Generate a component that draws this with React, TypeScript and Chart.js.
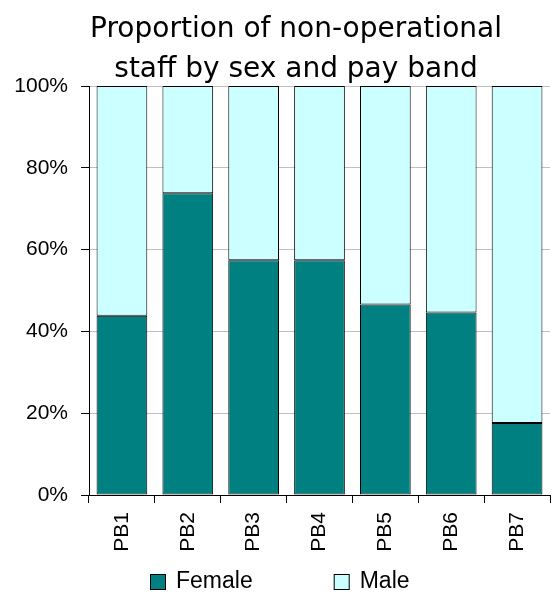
import React, { useEffect, useRef } from "react";
import { Chart, registerables } from "chart.js";

Chart.register(...registerables);

const categories = ["PB1", "PB2", "PB3", "PB4", "PB5", "PB6", "PB7"];
const femaleValues = [43.8, 73.8, 57.4, 57.4, 46.6, 44.6, 17.6];
const maleValues = [56.2, 26.2, 42.6, 42.6, 53.4, 55.4, 82.4];
const seriesNames = ["Female", "Male"];
const seriesColors = ["#008080", "#CCFFFF"];
const titleLines = ["Proportion of non-operational", "staff by sex and pay band"];

const FONT = "'Liberation Sans', Arial, sans-serif";
const TITLE_FONT = "'DejaVu Sans', Verdana, sans-serif";

const titleShiftPlugin = {
  id: "titleShift",
  afterLayout(chart: any) {
    if (chart.titleBlock) {
      chart.titleBlock.left = 40;
      chart.titleBlock.right = 552;
    }
  },
};

const legendPlugin = {
  id: "bottomLegend",
  afterDraw(chart: any) {
    const ctx = chart.ctx;
    ctx.save();
    ctx.font = `23px ${FONT}`;
    ctx.textBaseline = "middle";
    ctx.textAlign = "left";
    const box = 16;
    const gapText = 10;
    const gapItem = 81;
    const items = chart.data.datasets.map((ds: any) => ({
      label: ds.label,
      color: ds.backgroundColor,
      w: ctx.measureText(ds.label).width,
    }));
    const total = items.reduce(
      (s: number, it: any, i: number) => s + box + gapText + it.w + (i ? gapItem : 0),
      0
    );
    let x = Math.round(chart.width / 2 + 4 - total / 2);
    const y = 582;
    for (const it of items) {
      ctx.fillStyle = it.color;
      ctx.fillRect(x, y - 8, box, box);
      ctx.strokeStyle = "#000";
      ctx.lineWidth = 1;
      ctx.strokeRect(x + 0.5, y - 7.5, box - 1, box - 1);
      ctx.fillStyle = "#000";
      ctx.fillText(it.label, x + box + gapText, y);
      x += box + gapText + it.w + gapItem;
    }
    ctx.restore();
  },
};

export default function App() {
  const ref = useRef<HTMLCanvasElement | null>(null);
  useEffect(() => {
    if (!ref.current) return;
    const chart = new Chart(ref.current, {
      type: "bar",
      data: {
        labels: categories,
        datasets: [
          {
            label: seriesNames[0],
            data: femaleValues,
            backgroundColor: seriesColors[0],
            borderColor: "#000",
            borderWidth: 1,
            borderSkipped: false,
            barPercentage: 0.77,
            categoryPercentage: 1,
          },
          {
            label: seriesNames[1],
            data: maleValues,
            backgroundColor: seriesColors[1],
            borderColor: "#000",
            borderWidth: 1,
            borderSkipped: false,
            barPercentage: 0.77,
            categoryPercentage: 1,
          },
        ],
      },
      options: {
        responsive: false,
        animation: false,
        layout: { padding: { left: 0, right: 2, top: 0, bottom: 0 } },
        plugins: {
          legend: { display: false },
          tooltip: { enabled: false },
          title: {
            display: true,
            text: titleLines,
            color: "#000",
            font: { family: TITLE_FONT, size: 28, weight: "normal", lineHeight: "40px" },
            padding: { top: 10, bottom: -4 },
          },
        },
        scales: {
          x: {
            stacked: true,
            grid: {
              display: true,
              drawOnChartArea: false,
              drawTicks: true,
              tickLength: 8,
              tickColor: "#000",
              offset: true,
            },
            border: { display: true, color: "#000", width: 1 },
            ticks: {
              color: "#000",
              font: { family: FONT, size: 21 },
              minRotation: 90,
              maxRotation: 90,
              padding: 9,
              autoSkip: false,
            },
            afterFit(scale: any) {
              scale.height = 97;
            },
          },
          y: {
            stacked: true,
            min: 0,
            max: 100,
            grid: {
              color: "#c0c0c0",
              tickColor: "#000",
              tickLength: 8,
              drawTicks: true,
            },
            border: { display: true, color: "#000", width: 1 },
            ticks: {
              stepSize: 20,
              color: "#000",
              font: { family: FONT, size: 21 },
              padding: 13,
              callback: (v: any) => `${v}%`,
            },
            afterFit(scale: any) {
              scale.width = 89;
            },
          },
        },
      },
      plugins: [titleShiftPlugin, legendPlugin],
    });
    return () => chart.destroy();
  }, []);
  return (
    <div style={{ position: "fixed", left: 0, top: 0, width: 552, height: 592, background: "#fff" }}>
      <canvas ref={ref} width={552} height={592} style={{ display: "block" }} />
    </div>
  );
}
